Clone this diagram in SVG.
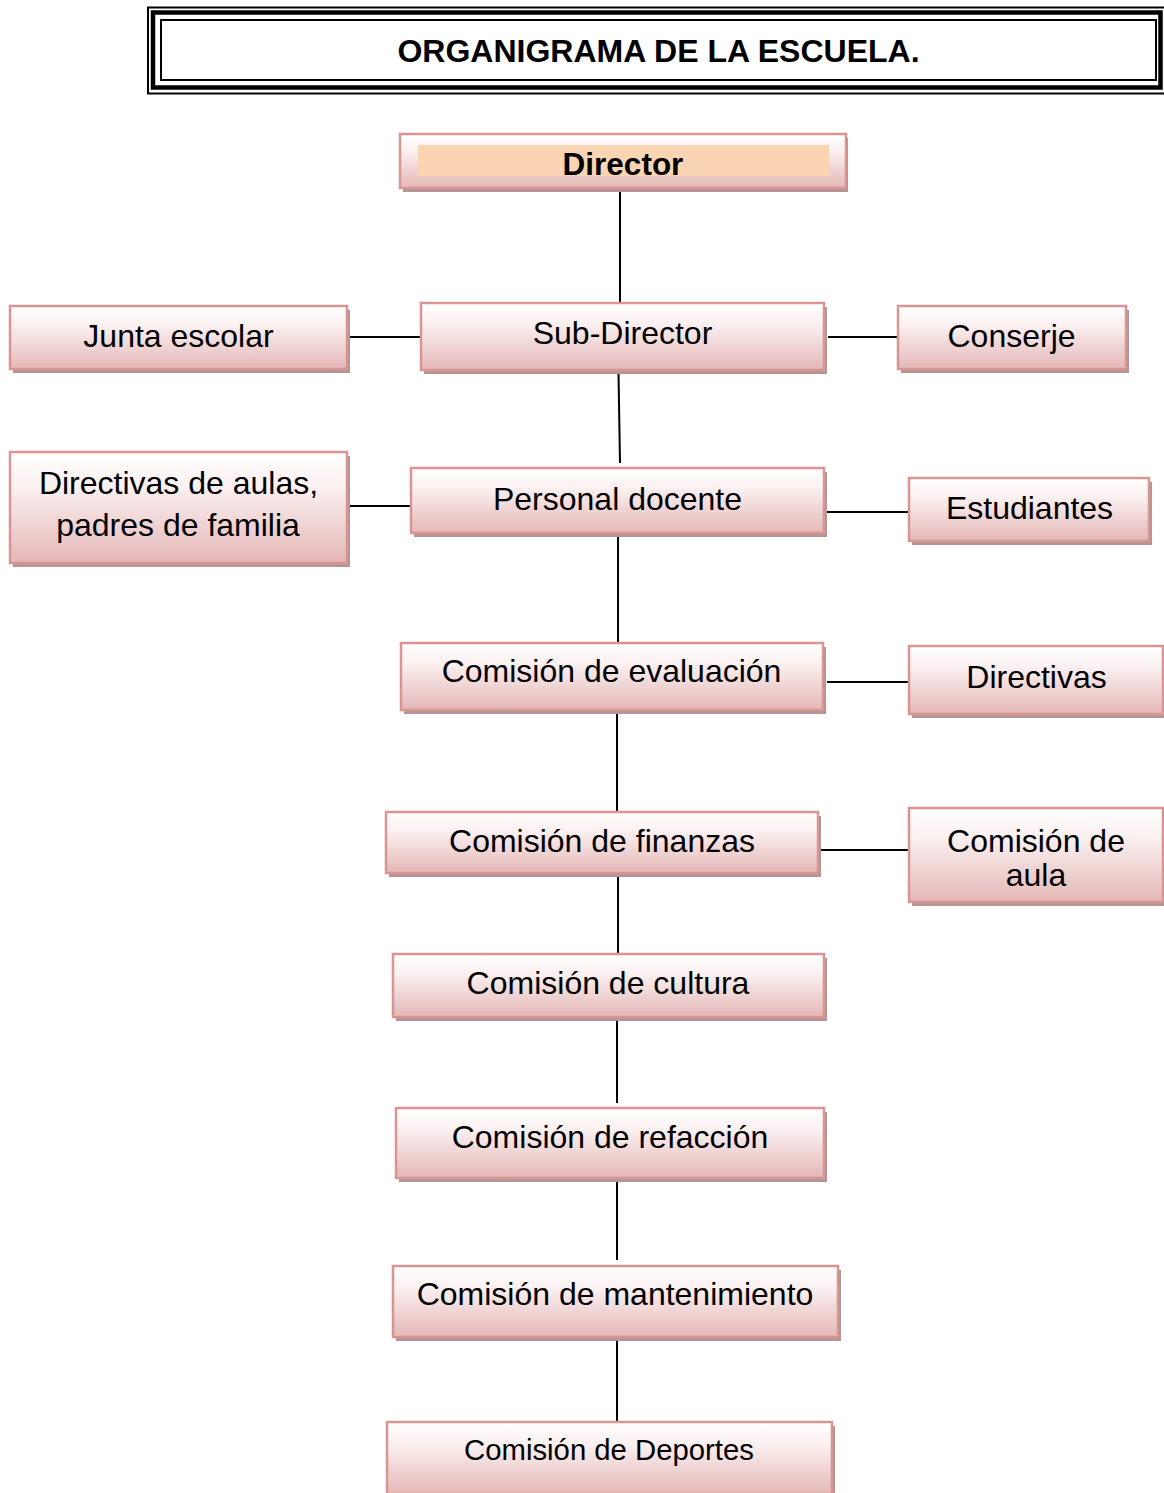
<svg xmlns="http://www.w3.org/2000/svg" width="1164" height="1493" viewBox="0 0 1164 1493">
<defs>
<linearGradient id="g" x1="0" y1="0" x2="0" y2="1">
<stop offset="0" stop-color="#ffffff"/>
<stop offset="0.3" stop-color="#fbf1f1"/>
<stop offset="1" stop-color="#e4b7b6"/>
</linearGradient>
<style>
.sh{fill:#b39595}
.bx{fill:url(#g);stroke:#d99594;stroke-width:2.5}
.t{font-family:"Liberation Sans",Arial,sans-serif;font-size:32px;fill:#000;text-anchor:middle}
.tb{font-family:"Liberation Sans",Arial,sans-serif;font-weight:bold;font-size:31.5px;fill:#000;text-anchor:middle}
.c{stroke:#000;stroke-width:2;fill:none}
.fr{fill:none;stroke:#000}
</style>
</defs>
<rect width="1164" height="1493" fill="#fff"/>

<g id="title">
<rect class="fr" x="148" y="7.5" width="1040" height="86" stroke-width="2"/>
<rect class="fr" x="153" y="12.5" width="1007.5" height="75" stroke-width="4.5"/>
<rect class="fr" x="161" y="20" width="995" height="60" stroke-width="2"/>
<text class="tb" x="658.5" y="62" style="font-size:32px">ORGANIGRAMA DE LA ESCUELA.</text>
</g>

<g id="connectors">
<line class="c" x1="620" y1="192" x2="620" y2="303"/>
<line class="c" x1="347" y1="337" x2="421" y2="337"/>
<line class="c" x1="828" y1="337" x2="898" y2="337"/>
<line class="c" x1="618.5" y1="373" x2="620" y2="463"/>
<line class="c" x1="347" y1="506" x2="411" y2="506"/>
<line class="c" x1="824" y1="512" x2="909" y2="512"/>
<line class="c" x1="618" y1="536" x2="618" y2="643"/>
<line class="c" x1="827" y1="682" x2="909" y2="682"/>
<line class="c" x1="617" y1="713" x2="617" y2="812"/>
<line class="c" x1="819" y1="850" x2="909" y2="850"/>
<line class="c" x1="618" y1="877" x2="618" y2="954"/>
<line class="c" x1="617" y1="1020" x2="617" y2="1103"/>
<line class="c" x1="617" y1="1181" x2="617" y2="1260"/>
<line class="c" x1="617" y1="1340" x2="617" y2="1423"/>
</g>

<g id="director">
<rect class="sh" x="403" y="138" width="445" height="54"/>
<rect class="bx" x="400" y="134" width="446" height="54"/>
<rect x="418" y="145" width="411" height="31" fill="#fbd4b4"/>
<text class="tb" x="623" y="175">Director</text>
</g>

<g id="subdirector">
<rect class="sh" x="424" y="307" width="403" height="67"/>
<rect class="bx" x="421" y="303" width="403" height="67"/>
<text class="t" x="622.5" y="344">Sub-Director</text>
</g>

<g id="junta">
<rect class="sh" x="13" y="310" width="337" height="63"/>
<rect class="bx" x="10" y="306" width="337" height="63"/>
<text class="t" x="178.5" y="347">Junta escolar</text>
</g>

<g id="conserje">
<rect class="sh" x="901" y="310" width="228" height="63"/>
<rect class="bx" x="898" y="306" width="228" height="63"/>
<text class="t" x="1011.5" y="347">Conserje</text>
</g>

<g id="directivas-aulas">
<rect class="sh" x="13" y="456" width="337" height="111"/>
<rect class="bx" x="10" y="452" width="337" height="111"/>
<text class="t" x="178.5" y="494">Directivas de aulas,</text>
<text class="t" x="178" y="536">padres de familia</text>
</g>

<g id="personal">
<rect class="sh" x="414" y="472" width="413" height="65"/>
<rect class="bx" x="411" y="468" width="413" height="65"/>
<text class="t" x="617.5" y="510">Personal docente</text>
</g>

<g id="estudiantes">
<rect class="sh" x="912" y="482" width="240" height="63"/>
<rect class="bx" x="909" y="478" width="240" height="63"/>
<text class="t" x="1029.5" y="519">Estudiantes</text>
</g>

<g id="evaluacion">
<rect class="sh" x="404" y="647" width="422" height="67"/>
<rect class="bx" x="401" y="643" width="422" height="67"/>
<text class="t" x="611.5" y="682">Comisión de evaluación</text>
</g>

<g id="directivas">
<rect class="sh" x="912" y="650" width="254" height="68"/>
<rect class="bx" x="909" y="646" width="254" height="68"/>
<text class="t" x="1036.5" y="688">Directivas</text>
</g>

<g id="finanzas">
<rect class="sh" x="389" y="816" width="432" height="61"/>
<rect class="bx" x="386" y="812" width="432" height="61"/>
<text class="t" x="602" y="852">Comisión de finanzas</text>
</g>

<g id="comision-aula">
<rect class="sh" x="912" y="812" width="254" height="94"/>
<rect class="bx" x="909" y="808" width="254" height="94"/>
<text class="t" x="1036" y="852">Comisión de</text>
<text class="t" x="1036" y="886">aula</text>
</g>

<g id="cultura">
<rect class="sh" x="396" y="958" width="431" height="63"/>
<rect class="bx" x="393" y="954" width="431" height="63"/>
<text class="t" x="608" y="994">Comisión de cultura</text>
</g>

<g id="refaccion">
<rect class="sh" x="399" y="1112" width="428" height="70"/>
<rect class="bx" x="396" y="1108" width="428" height="70"/>
<text class="t" x="610" y="1148">Comisión de refacción</text>
</g>

<g id="mantenimiento">
<rect class="sh" x="396" y="1270" width="445" height="71"/>
<rect class="bx" x="393" y="1266" width="445" height="71"/>
<text class="t" x="615" y="1305">Comisión de mantenimiento</text>
</g>

<g id="deportes">
<rect class="sh" x="390" y="1426" width="445" height="72"/>
<rect class="bx" x="387" y="1422" width="445" height="72"/>
<text class="t" x="609" y="1460" style="font-size:29.3px">Comisión de Deportes</text>
</g>
</svg>
